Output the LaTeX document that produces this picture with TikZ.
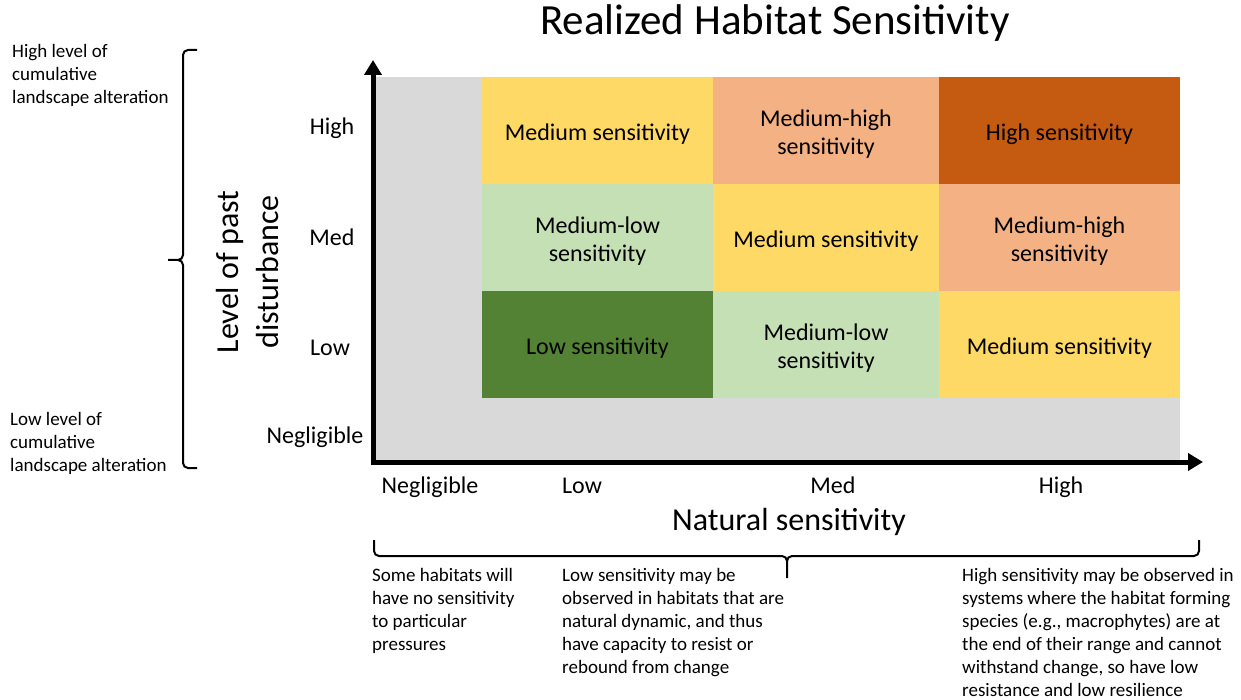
\documentclass[tikz,border=0pt]{standalone}
\usepackage{fontspec}
\setmainfont{Carlito}
\usetikzlibrary{arrows.meta}

\definecolor{nonegray}{HTML}{D9D9D9}
\definecolor{medyellow}{HTML}{FFD966}
\definecolor{medhigh}{HTML}{F4B183}
\definecolor{highorange}{HTML}{C55A11}
\definecolor{medlow}{HTML}{C5E0B4}
\definecolor{lowgreen}{HTML}{548235}

\tikzset{
  celltext/.style={inner sep=0pt, align=center, font=\fontsize{24}{28}\selectfont},
  tick/.style={inner sep=0pt, text height=17pt, text depth=5pt, font=\fontsize{24}{28}\selectfont},
  axislabel/.style={font=\fontsize{32}{40}\selectfont, align=center},
  note/.style={inner sep=0pt, align=left, font=\fontsize{19}{23}\selectfont},
  axis/.style={line width=5pt, -{Triangle[width=17pt,length=15pt]}},
  bracket/.style={line width=2pt, rounded corners=5pt}
}

\begin{document}
\begin{tikzpicture}[x=1pt,y=-1pt]
    \useasboundingbox (0,0) rectangle (1241,700);

    \node[font=\fontsize{43}{50}\selectfont] (title) at (775,23) {Realized Habitat Sensitivity};

    % grey background = negligible
    \fill[nonegray] (372,77) rectangle (1180,462);

    % matrix fills
    \fill[medyellow]  (482,77)  rectangle (713,184);
    \fill[medhigh]    (713,77)  rectangle (939,184);
    \fill[highorange] (939,77)  rectangle (1180,184);
    \fill[medlow]     (482,184) rectangle (713,291);
    \fill[medyellow]  (713,184) rectangle (939,291);
    \fill[medhigh]    (939,184) rectangle (1180,291);
    \fill[lowgreen]   (482,291) rectangle (713,398);
    \fill[medlow]     (713,291) rectangle (939,398);
    \fill[medyellow]  (939,291) rectangle (1180,398);

    % matrix labels
    \node[celltext] (c13) at (597.5,134.5)  {Medium sensitivity};
    \node[celltext] (c23) at (826,134.5)    {Medium-high\\sensitivity};
    \node[celltext] (c33) at (1059.5,134.5) {High sensitivity};
    \node[celltext] (c12) at (597.5,241.5)  {Medium-low\\sensitivity};
    \node[celltext] (c22) at (826,241.5)    {Medium sensitivity};
    \node[celltext] (c32) at (1059.5,241.5) {Medium-high\\sensitivity};
    \node[celltext] (c11) at (597.5,348.5)  {Low sensitivity};
    \node[celltext] (c21) at (826,348.5)    {Medium-low\\sensitivity};
    \node[celltext] (c31) at (1059.5,348.5) {Medium sensitivity};

    % axes
    \coordinate (origin) at (373,462);
    \coordinate (ytop) at (373,60);
    \coordinate (xend) at (1203,462);
    \draw[axis] ([yshift=-2.5pt]origin) -- (ytop);
    \draw[axis] ([xshift=-2.5pt]origin) -- (xend);

    % tick labels
    \node[tick] (yhigh) at (332,129) {High};
    \node[tick] (ymed)  at (332,240) {Med};
    \node[tick] (ylow)  at (330,349) {Low};
    \node[tick] (yneg)  at (315,437) {Negligible};
    \node[tick] (xneg)  at (430,487) {Negligible};
    \node[tick] (xlow)  at (582,487) {Low};
    \node[tick] (xmed)  at (833,487) {Med};
    \node[tick] (xhigh) at (1061,487) {High};

    \node[axislabel, rotate=90] (ylabel) at (248,272) {Level of past\\disturbance};
    \node[axislabel] (xlabel) at (789,522) {Natural sensitivity};

    % braces
    \coordinate (ltop) at (197,50);
    \coordinate (lbot) at (197,468);
    \coordinate (ltip) at (168,260);
    \draw[bracket] (ltop) -- (183,50) -- (183,260) -- (ltip)
                   (lbot) -- (183,468) -- (183,260) -- (ltip);
    \coordinate (bleft) at (374,540);
    \coordinate (bright) at (1199,540);
    \coordinate (btip) at (787,578);
    \draw[bracket] (bleft) -- (374,556) -- (787,556) -- (btip)
                   (bright) -- (1199,556) -- (787,556) -- (btip);

    % notes
    \node[note, anchor=north west] (hinote) at (12,44) {High level of\\cumulative\\landscape alteration};
    \node[note, anchor=north west] (lonote) at (10,412) {Low level of\\cumulative\\landscape alteration};
    \node[note, anchor=north west] (negnote) at (372,568) {Some habitats will\\have no sensitivity\\to particular\\pressures};
    \node[note, anchor=north west] (lownote) at (562,568) {Low sensitivity may be\\observed in habitats that are\\natural dynamic, and thus\\have capacity to resist or\\rebound from change};
    \node[note, anchor=north west] (highnote) at (962,568) {High sensitivity may be observed in\\systems where the habitat forming\\species (e.g., macrophytes) are at\\the end of their range and cannot\\withstand change, so have low\\resistance and low resilience};
\end{tikzpicture}
\end{document}
